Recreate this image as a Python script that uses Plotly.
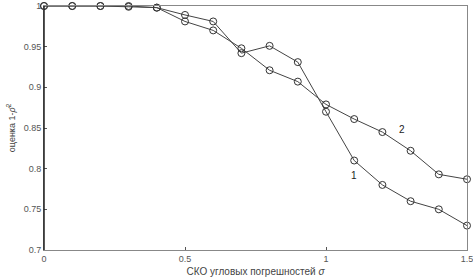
import plotly.graph_objects as go

sigma = [0, 0.1, 0.2, 0.3, 0.4, 0.5, 0.6, 0.7, 0.8, 0.9, 1.0, 1.1, 1.2, 1.3, 1.4, 1.5]
series1 = [1.0, 1.0, 1.0, 1.0, 0.998, 0.989, 0.981, 0.942, 0.951, 0.931, 0.870, 0.810, 0.780, 0.760, 0.750, 0.730]
series2 = [1.0, 1.0, 1.0, 0.999, 0.998, 0.981, 0.970, 0.948, 0.921, 0.907, 0.879, 0.861, 0.845, 0.822, 0.793, 0.787]
x_ticks = [0, 0.5, 1, 1.5]
x_tick_labels = ["0", "0.5", "1", "1.5"]
y_ticks = [0.7, 0.75, 0.8, 0.85, 0.9, 0.95, 1.0]
y_tick_labels = ["0.7", "0.75", "0.8", "0.85", "0.9", "0.95", "1"]
labels = ["1", "2"]
label_x = [1.10, 1.27]
label_y = [0.792, 0.848]

fig = go.Figure()
for ys in (series1, series2):
    fig.add_trace(go.Scatter(
        x=sigma, y=ys, mode="lines+markers",
        line=dict(color="#444444", width=1),
        marker=dict(symbol="circle-open", size=7, color="#333333", line=dict(width=1)),
        showlegend=False, cliponaxis=False))

for t, lx, ly in zip(labels, label_x, label_y):
    fig.add_annotation(x=lx, y=ly, text=t, showarrow=False,
                       font=dict(family="Liberation Sans, Arial", size=10, color="#222222"))

axis_font = dict(family="Liberation Sans, Arial", size=9, color="#555555")
fig.update_layout(
    width=473, height=277,
    margin=dict(l=44, r=6, t=6, b=27),
    plot_bgcolor="white", paper_bgcolor="white",
    xaxis=dict(range=[0, 1.5], tickvals=x_ticks, ticktext=x_tick_labels,
               ticks="inside", ticklen=3, tickcolor="#555555", automargin=False,
               ticklabeloverflow="allow",
               showgrid=False, zeroline=False, showline=True, linecolor="#888888",
               linewidth=1, mirror=True, tickfont=axis_font,
               title=dict(text="СКО угловых погрешностей <i>σ</i>", standoff=5,
                          font=dict(family="Liberation Sans, Arial", size=10, color="#444444"))),
    yaxis=dict(range=[0.7, 1.0], tickvals=y_ticks, ticktext=y_tick_labels,
               ticks="inside", ticklen=3, tickcolor="#555555", automargin=False,
               ticklabeloverflow="allow",
               showgrid=False, zeroline=False, showline=True, linecolor="#888888",
               linewidth=1, mirror=True, tickfont=axis_font,
               title=dict(text="оценка 1-<i>ρ̂</i><sup>2</sup>", standoff=6,
                          font=dict(family="Liberation Sans, Arial", size=9, color="#444444"))),
)
fig.add_shape(type="line", xref="paper", yref="paper", x0=0, x1=0, y0=0, y1=1,
              line=dict(color="#222222", width=1.5))
fig.write_html("out.html", config={"displayModeBar": False},
               post_script="document.body.style.margin='0';document.body.style.overflow='hidden';")
